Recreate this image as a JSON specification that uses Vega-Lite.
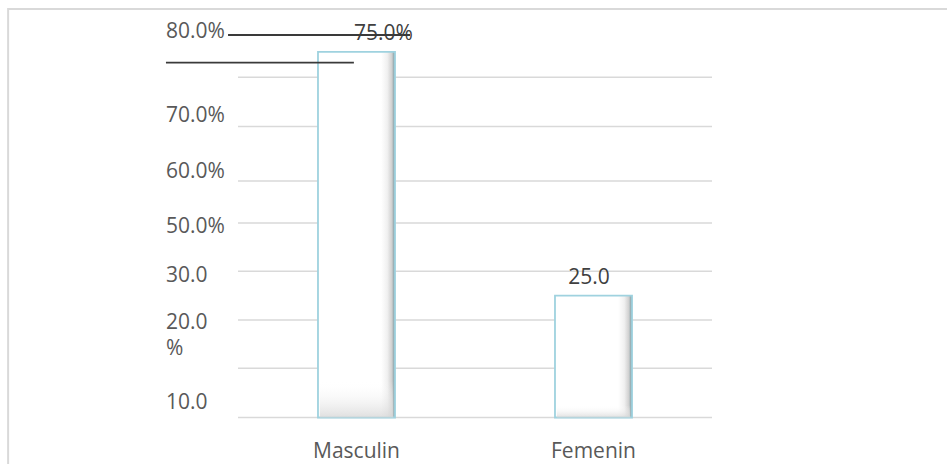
{
  "$schema": "https://vega.github.io/schema/vega-lite/v6.json",
  "width": 474,
  "height": 390,
  "autosize": {"type": "none"},
  "padding": {"left": 238, "top": 27.5, "right": 235, "bottom": 46.5},
  "background": "white",
  "config": {
    "view": {"stroke": null},
    "font": "Open Sans",
    "axisX": {"domain": false, "ticks": false, "grid": false, "labelAngle": 0, "labelPadding": 23, "labelFontSize": 21, "labelColor": "#595959", "labelFont": "Open Sans", "titleFontSize": 0, "titlePadding": 0}
  },
  "datasets": {
    "bars": [
      {"sexo": "Masculin", "pct": 75, "label": "75.0%"},
      {"sexo": "Femenin", "pct": 25, "label": "25.0"}
    ],
    "grid": [{"v": 0}, {"v": 10.1}, {"v": 20}, {"v": 30}, {"v": 39.9}, {"v": 48.5}, {"v": 59.7}, {"v": 69.8}],
    "ylabels": [
      {"t": "80.0%", "v": 79},
      {"t": "70.0%", "v": 61.9},
      {"t": "60.0%", "v": 50.4},
      {"t": "50.0%", "v": 39},
      {"t": "30.0", "v": 29},
      {"t": "20.0", "v": 19.4},
      {"t": "%", "v": 14.1},
      {"t": "10.0", "v": 3}
    ],
    "one": [{}]
  },
  "layer": [
    {
      "data": {"name": "one"},
      "mark": {"type": "rect", "fill": null, "fillOpacity": 0, "stroke": "#d9d9d9", "strokeWidth": 2},
      "encoding": {
        "x": {"datum": "Masculin", "type": "nominal", "bandPosition": -0.97},
        "x2": {"datum": "Femenin", "bandPosition": 2.1},
        "y": {"datum": 83.8, "type": "quantitative", "scale": {"domain": [0, 80], "nice": false}, "axis": null},
        "y2": {"datum": -15}
      }
    },
    {
      "data": {"name": "grid"},
      "mark": {"type": "rule", "color": "#d9d9d9", "strokeWidth": 1.5},
      "encoding": {
        "y": {"field": "v", "type": "quantitative", "scale": {"domain": [0, 80], "nice": false}, "axis": null}
      }
    },
    {
      "data": {"name": "bars"},
      "mark": {
        "type": "bar",
        "width": {"band": 0.325},
        "stroke": "#9fd2df",
        "strokeWidth": 1.8,
        "fill": {
          "gradient": "linear", "x1": 0, "y1": 0, "x2": 1, "y2": 0,
          "stops": [
            {"offset": 0, "color": "#ffffff"},
            {"offset": 0.82, "color": "#ffffff"},
            {"offset": 0.9, "color": "#f0f0f0"},
            {"offset": 0.96, "color": "#cfcfcf"},
            {"offset": 1, "color": "#6f939c"}
          ]
        }
      },
      "encoding": {
        "x": {"field": "sexo", "type": "nominal", "title": null, "scale": {"domain": ["Masculin", "Femenin"], "paddingInner": 0, "paddingOuter": 0}, "axis": {"title": null}},
        "y": {"field": "pct", "type": "quantitative", "scale": {"domain": [0, 80], "nice": false}, "axis": null}
      }
    },
    {
      "data": {"name": "bars"},
      "mark": {
        "type": "bar",
        "width": {"band": 0.31},
        "fill": {
          "gradient": "linear", "x1": 0, "y1": 0, "x2": 0, "y2": 1,
          "stops": [
            {"offset": 0, "color": "rgba(255,255,255,0)"},
            {"offset": 0.9, "color": "rgba(255,255,255,0)"},
            {"offset": 1, "color": "rgba(215,215,215,0.8)"}
          ]
        }
      },
      "encoding": {
        "x": {"field": "sexo", "type": "nominal"},
        "y": {"field": "pct", "type": "quantitative", "scale": {"domain": [0, 80], "nice": false}, "axis": null}
      }
    },
    {
      "data": {"name": "ylabels"},
      "mark": {"type": "text", "align": "left", "baseline": "middle", "fontSize": 21, "color": "#595959", "font": "Open Sans"},
      "encoding": {
        "x": {"datum": "Masculin", "type": "nominal", "bandPosition": -0.304},
        "y": {"field": "v", "type": "quantitative", "scale": {"domain": [0, 80], "nice": false}, "axis": null},
        "text": {"field": "t"}
      }
    },
    {
      "data": {"name": "bars"},
      "transform": [{"filter": "datum.sexo === 'Masculin'"}],
      "mark": {"type": "text", "align": "center", "baseline": "middle", "dy": -17.5, "fontSize": 21, "color": "#404040", "font": "Open Sans"},
      "encoding": {
        "x": {"field": "sexo", "type": "nominal", "bandPosition": 0.614},
        "y": {"field": "pct", "type": "quantitative", "scale": {"domain": [0, 80], "nice": false}, "axis": null},
        "text": {"field": "label"}
      }
    },
    {
      "data": {"name": "bars"},
      "transform": [{"filter": "datum.sexo === 'Femenin'"}],
      "mark": {"type": "text", "align": "center", "baseline": "middle", "dy": -17.5, "fontSize": 21, "color": "#404040", "font": "Open Sans"},
      "encoding": {
        "x": {"field": "sexo", "type": "nominal", "bandPosition": 0.481},
        "y": {"field": "pct", "type": "quantitative", "scale": {"domain": [0, 80], "nice": false}, "axis": null},
        "text": {"field": "label"}
      }
    },
    {
      "data": {"name": "one"},
      "mark": {"type": "rule", "color": "#3a3a3a", "strokeWidth": 1.8},
      "encoding": {
        "x": {"datum": "Masculin", "type": "nominal", "bandPosition": -0.042},
        "x2": {"datum": "Masculin", "bandPosition": 0.726},
        "y": {"datum": 78.46, "type": "quantitative", "scale": {"domain": [0, 80], "nice": false}, "axis": null}
      }
    },
    {
      "data": {"name": "one"},
      "mark": {"type": "rule", "color": "#3a3a3a", "strokeWidth": 1.8},
      "encoding": {
        "x": {"datum": "Masculin", "type": "nominal", "bandPosition": -0.304},
        "x2": {"datum": "Masculin", "bandPosition": 0.489},
        "y": {"datum": 72.78, "type": "quantitative", "scale": {"domain": [0, 80], "nice": false}, "axis": null}
      }
    }
  ]
}
